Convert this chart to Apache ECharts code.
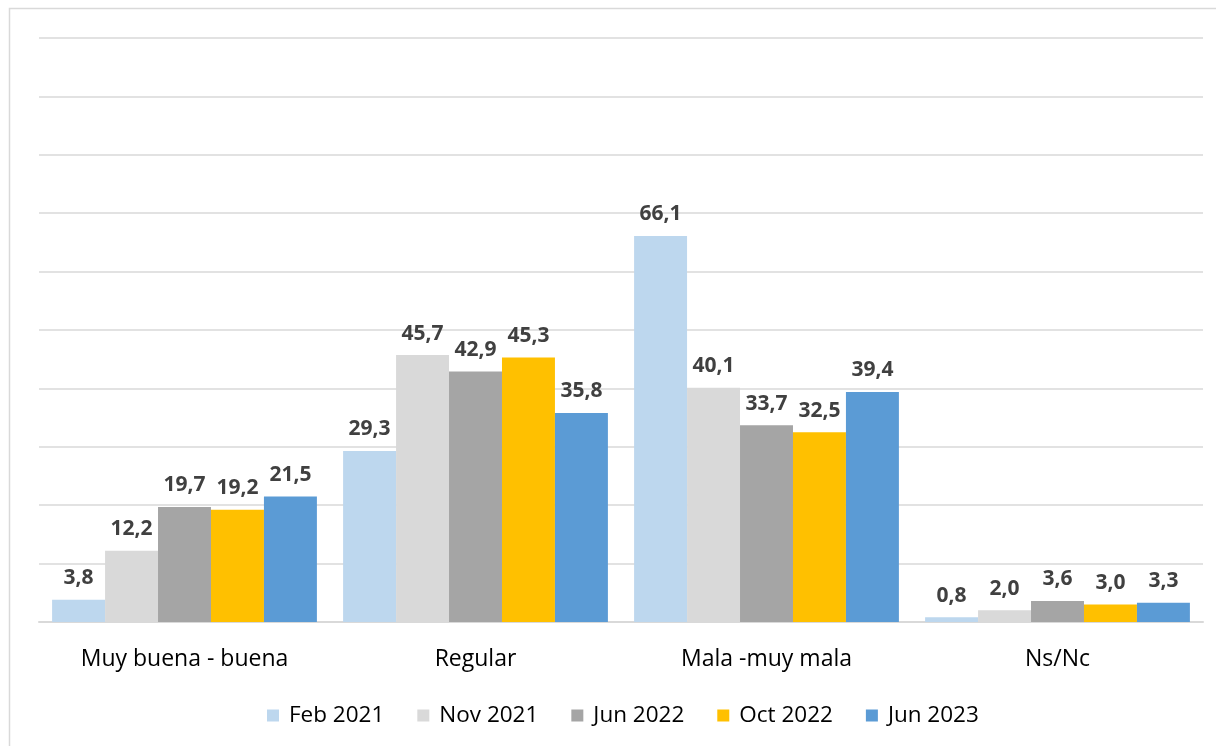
<!DOCTYPE html>
<html>
<head>
<meta charset="utf-8">
<script src="https://cdn.jsdelivr.net/npm/echarts@6/dist/echarts.min.js"></script>
<style>
  html, body { margin: 0; padding: 0; background: #fff; }
  #chart { width: 1216px; height: 746px; }
</style>
</head>
<body>
<div id="chart"></div>
<script>
const categories = ['Muy buena - buena', 'Regular', 'Mala -muy mala', 'Ns/Nc'];
const seriesNames = ['Feb 2021', 'Nov 2021', 'Jun 2022', 'Oct 2022', 'Jun 2023'];
const feb2021 = [3.8, 29.3, 66.1, 0.8];
const nov2021 = [12.2, 45.7, 40.1, 2.0];
const jun2022 = [19.7, 42.9, 33.7, 3.6];
const oct2022 = [19.2, 45.3, 32.5, 3.0];
const jun2023 = [21.5, 35.8, 39.4, 3.3];
const colors = ['#BDD7EE', '#D9D9D9', '#A5A5A5', '#FFC000', '#5B9BD5'];

const allValues = [feb2021, nov2021, jun2022, oct2022, jun2023];
const font = '"Open Sans", sans-serif';

const chart = echarts.init(document.getElementById('chart'));

chart.setOption({
  animation: false,
  color: colors,
  graphic: [{
    type: 'rect',
    shape: { x: 9.5, y: 8.5, width: 1230, height: 760 },
    style: { fill: 'none', stroke: '#d9d9d9', lineWidth: 1.5 },
    silent: true
  }],
  grid: { left: 39, right: 13, top: 38, bottom: 124 },
  legend: {
    top: 699,
    left: 262,
    itemWidth: 12,
    itemHeight: 12,
    itemGap: 33,
    icon: 'rect',
    textStyle: { fontFamily: font, fontSize: 22.5, color: '#000', padding: [0, 0, 0, 5] }
  },
  xAxis: {
    type: 'category',
    data: categories,
    axisLine: { lineStyle: { color: '#d9d9d9', width: 2 } },
    axisTick: { show: false },
    axisLabel: { fontFamily: font, fontSize: 23, color: '#000', margin: 26 }
  },
  yAxis: {
    type: 'value',
    min: 0,
    max: 100,
    interval: 10,
    axisLabel: { show: false },
    axisLine: { show: false },
    axisTick: { show: false },
    splitLine: { lineStyle: { color: '#d9d9d9', width: 1.5 } }
  },
  series: seriesNames.map((name, i) => ({
    name: name,
    type: 'bar',
    data: allValues[i],
    barGap: '0%',
    barCategoryGap: '9%',
    label: {
      show: true,
      position: 'top',
      distance: 11,
      fontFamily: font,
      fontSize: 21,
      fontWeight: 'bold',
      color: '#404040',
      formatter: p => p.value.toFixed(1).replace('.', ',')
    }
  }))
});
</script>
</body>
</html>
